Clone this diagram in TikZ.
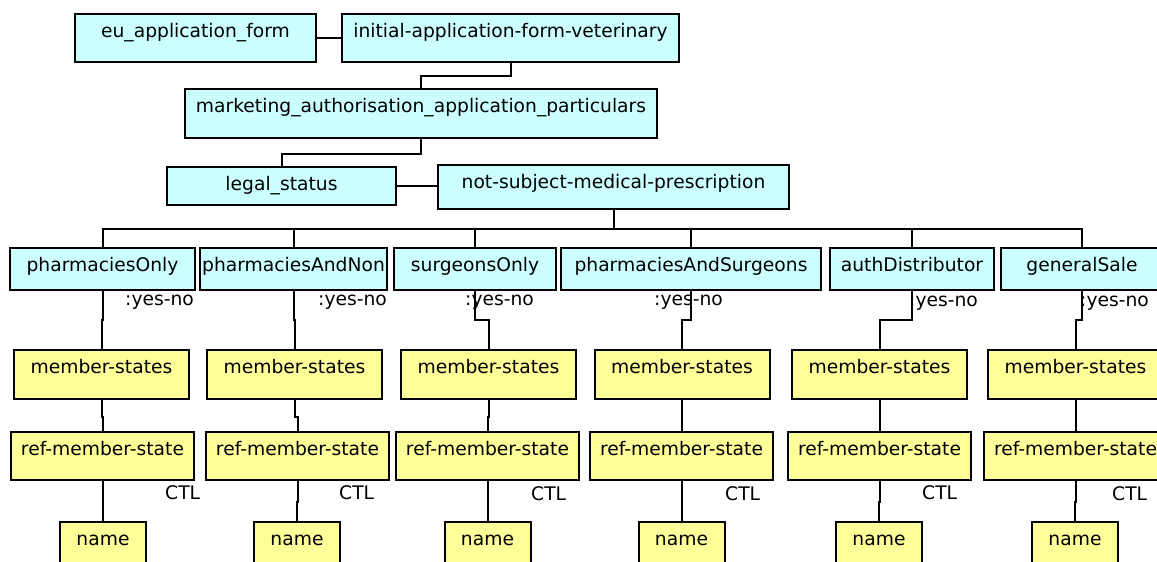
\documentclass[tikz,border=0pt]{standalone}
\usepackage{fontspec}
\setmainfont{DejaVu Sans}
\definecolor{boxcyan}{HTML}{CCFFFF}
\definecolor{boxyellow}{HTML}{FFFF99}

\begin{document}
\begin{tikzpicture}[x=1pt,y=-1pt,
  font=\fontsize{18.7pt}{22pt}\selectfont,
  box/.style={draw,line width=2pt,inner sep=0pt,text height=23pt,anchor=north},
  cbox/.style={box,fill=boxcyan},
  ybox/.style={box,fill=boxyellow},
  lbl/.style={inner sep=0pt,anchor=base west},
  wire/.style={line width=2pt},
  elbow/.style={to path={-- ++(0,#1) -| (\tikztotarget)}}]
  \useasboundingbox (0,0) rectangle (1157,562);
  \clip (0,0) rectangle (1157,562);
  % upper chain
  \node[cbox,minimum width=241pt,text depth=25pt] (euform) at (195.5,13) {eu\_application\_form};
  \node[cbox,minimum width=337pt,text depth=25pt] (initial) at (510.5,13) {initial-application-form-veterinary};
  \node[cbox,minimum width=472pt,text depth=26pt] (particulars) at (421,88) {marketing\_authorisation\_application\_particulars};
  \node[cbox,minimum width=229pt,text depth=15pt] (legal) at (281.5,166) {legal\_status};
  \node[cbox,minimum width=351pt,text depth=21pt] (notsubject) at (613.5,164) {not-subject-medical-prescription};
  \draw[wire] (euform) -- (initial);
  \draw[wire] (initial.south) to[elbow=13] (particulars.north);
  \draw[wire] (particulars.south) to[elbow=15] (legal.north);
  \draw[wire] (legal.east) -- (legal.east -| notsubject.west);
  % the six sale categories
  \foreach \i/\txt/\cx/\cw/\mx/\rx/\nx/\yx/\yb/\tx/\tb in {
    1/pharmaciesOnly/102.5/185/101.5/102.5/103/125/305/165/499,
    2/pharmaciesAndNon/293.5/187/294.5/297.5/297/318/305/339/499,
    3/surgeonsOnly/475/162/488.5/487.5/487.5/465/305/531/500,
    4/pharmaciesAndSurgeons/691/260/682/681.5/681.5/654/305/725/500,
    5/authDistributor/912/164/879.5/879.5/879/909/306/922/499,
    6/generalSale/1082/162/1075.5/1075.5/1075/1080/306/1112/500}
  {
    \node[cbox,minimum width=\cw pt,text depth=19pt] (c\i) at (\cx,247) {\txt};
    \node[ybox,minimum width=175pt,text depth=26pt] (m\i) at (\mx,349) {member-states};
    \node[ybox,minimum width=183pt,text depth=25pt] (r\i) at (\rx,431) {ref-member-state};
    \node[ybox,minimum width=86pt,text depth=60pt] (nm\i) at (\nx,521) {name};
    \node[lbl] (yn\i) at (\yx,\yb) {:yes-no};
    \node[lbl] (ctl\i) at (\tx,\tb) {CTL};
    \draw[wire] (notsubject.south) to[elbow=19] (c\i.north);
    \draw[wire] (c\i.south) to[elbow=29] (m\i.north);
    \draw[wire] (m\i.south) to[elbow=17] (r\i.north);
    \draw[wire] (r\i.south) to[elbow=21] (nm\i.north);
  }
\end{tikzpicture}
\end{document}
